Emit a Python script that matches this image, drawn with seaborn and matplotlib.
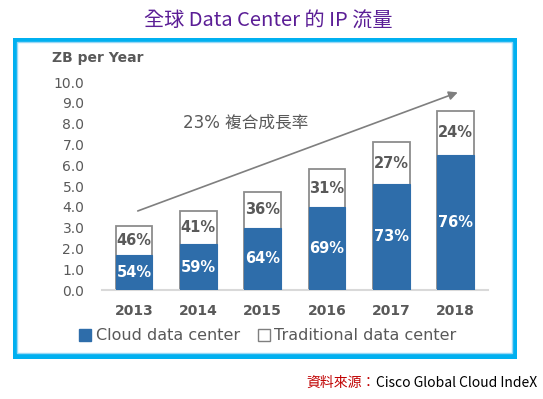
import matplotlib
matplotlib.use("Agg")
import matplotlib.pyplot as plt
from matplotlib.patches import Rectangle, Patch
import pandas as pd
import seaborn as sns

# values (ZB per year)
years = ["2013", "2014", "2015", "2016", "2017", "2018"]
cloud = [1.7, 2.2, 3.0, 4.0, 5.1, 6.5]
traditional = [1.4, 1.6, 1.7, 1.8, 2.0, 2.1]
cloud_pct = ["54%", "59%", "64%", "69%", "73%", "76%"]
trad_pct = ["46%", "41%", "36%", "31%", "27%", "24%"]
y_ticks = [0, 1, 2, 3, 4, 5, 6, 7, 8, 9, 10]

df = pd.DataFrame({"year": years, "cloud": cloud, "traditional": traditional})
df["total"] = df["cloud"] + df["traditional"]

sns.set_style("white")
plt.rcParams["font.family"] = ["DejaVu Sans", "Noto Sans CJK TC"]

blue = "#2E6DAA"
gray_txt = "#595959"
W, H = 543, 399

fig = plt.figure(figsize=(W / 100, H / 100), dpi=100)
ax = fig.add_axes([101.7 / W, 1 - 290 / H, (488 - 101.7) / W, 208 / H])

# stacked bars: white total bar underneath, cloud part on top of it
sns.barplot(data=df, x="year", y="total", color="white", edgecolor="#8C8C8C",
            linewidth=1.3, saturation=1, width=0.57, ax=ax, zorder=2)
sns.barplot(data=df, x="year", y="cloud", color=blue, edgecolor=blue,
            linewidth=0.8, saturation=1, width=0.57, ax=ax, zorder=3)

for i in range(len(years)):
    c = df["cloud"][i]
    t = df["total"][i]
    ax.text(i, c / 2, cloud_pct[i], ha="center", va="center", color="white",
            fontsize=10.5, fontweight="bold", zorder=5)
    ax.text(i, (c + t) / 2, trad_pct[i], ha="center", va="center", color=gray_txt,
            fontsize=10.5, fontweight="bold", zorder=5)

ax.set_xlim(-0.5, 5.5)
ax.set_ylim(0, 10)
ax.set_yticks(y_ticks)
ax.set_yticklabels([f"{v:.1f}" for v in y_ticks])
ax.set_xlabel("")
ax.set_ylabel("")
ax.tick_params(axis="y", length=0, pad=12.5, labelsize=10, labelcolor=gray_txt)
ax.tick_params(axis="x", length=0, pad=10, labelsize=10, labelcolor=gray_txt)
for lab in ax.get_xticklabels():
    lab.set_fontweight("bold")
for s in ["top", "right", "left"]:
    ax.spines[s].set_visible(False)
ax.spines["bottom"].set_color("#D9D9D9")
ax.spines["bottom"].set_linewidth(1.5)
ax.patch.set_alpha(0)

# growth arrow and label
ax.annotate("", xy=(5.03, 9.5), xytext=(0.06, 3.8), annotation_clip=False,
            arrowprops=dict(arrowstyle="-|>", color="#7F7F7F", lw=1.2,
                            mutation_scale=13, shrinkA=0, shrinkB=0), zorder=4)
ax.text(0.77, 8.04, "23% 複合成長率", ha="left", va="center", color=gray_txt,
        fontsize=12, family=["DejaVu Sans", "Noto Sans CJK TC"])

fig.text(51.7 / W, 1 - 58.3 / H, "ZB per Year", ha="left", va="center",
         color=gray_txt, fontsize=10, fontweight="bold")

# legend
handles = [Patch(facecolor=blue, edgecolor=blue, label="Cloud data center"),
           Patch(facecolor="white", edgecolor="#7F7F7F", label="Traditional data center")]
fig.legend(handles=handles, loc="center", bbox_to_anchor=(268 / W, 1 - 336 / H),
           ncol=2, frameon=False, fontsize=11.5, handlelength=0.75, handleheight=0.75,
           handletextpad=0.3, columnspacing=1.1, labelcolor=gray_txt)

# blue frame around the chart
fig.patches.append(Rectangle((14.5 / W, 1 - 355.5 / H), (514 - 14.5) / W, (355.5 - 39.5) / H,
                             transform=fig.transFigure, fill=False, edgecolor="#00B0F0",
                             linewidth=3.6, zorder=0))
fig.patches.append(Rectangle((17 / W, 1 - 353 / H), (511.5 - 17) / W, (353 - 42) / H,
                             transform=fig.transFigure, fill=False, edgecolor="#9AD8F5",
                             linewidth=1.0, zorder=0))

# title
fig.text(268 / W, 1 - 21.5 / H, "全球 Data Center 的 IP 流量", ha="center", va="center",
         color="#5B1E96", fontsize=14.5, family=["Noto Sans CJK TC", "DejaVu Sans"])

# source line: red label followed by black text
src = fig.text(537 / W, 1 - 383 / H, "Cisco Global Cloud IndeX", ha="right", va="center",
               color="black", fontsize=10, family=["Noto Sans CJK TC", "DejaVu Sans"])
ax.annotate("資料來源：", xy=(0, 0.5), xycoords=src, ha="right", va="center",
            color="#C00000", fontsize=10, family=["Noto Sans CJK TC", "DejaVu Sans"],
            annotation_clip=False)

fig.savefig("out.png", dpi=100)
